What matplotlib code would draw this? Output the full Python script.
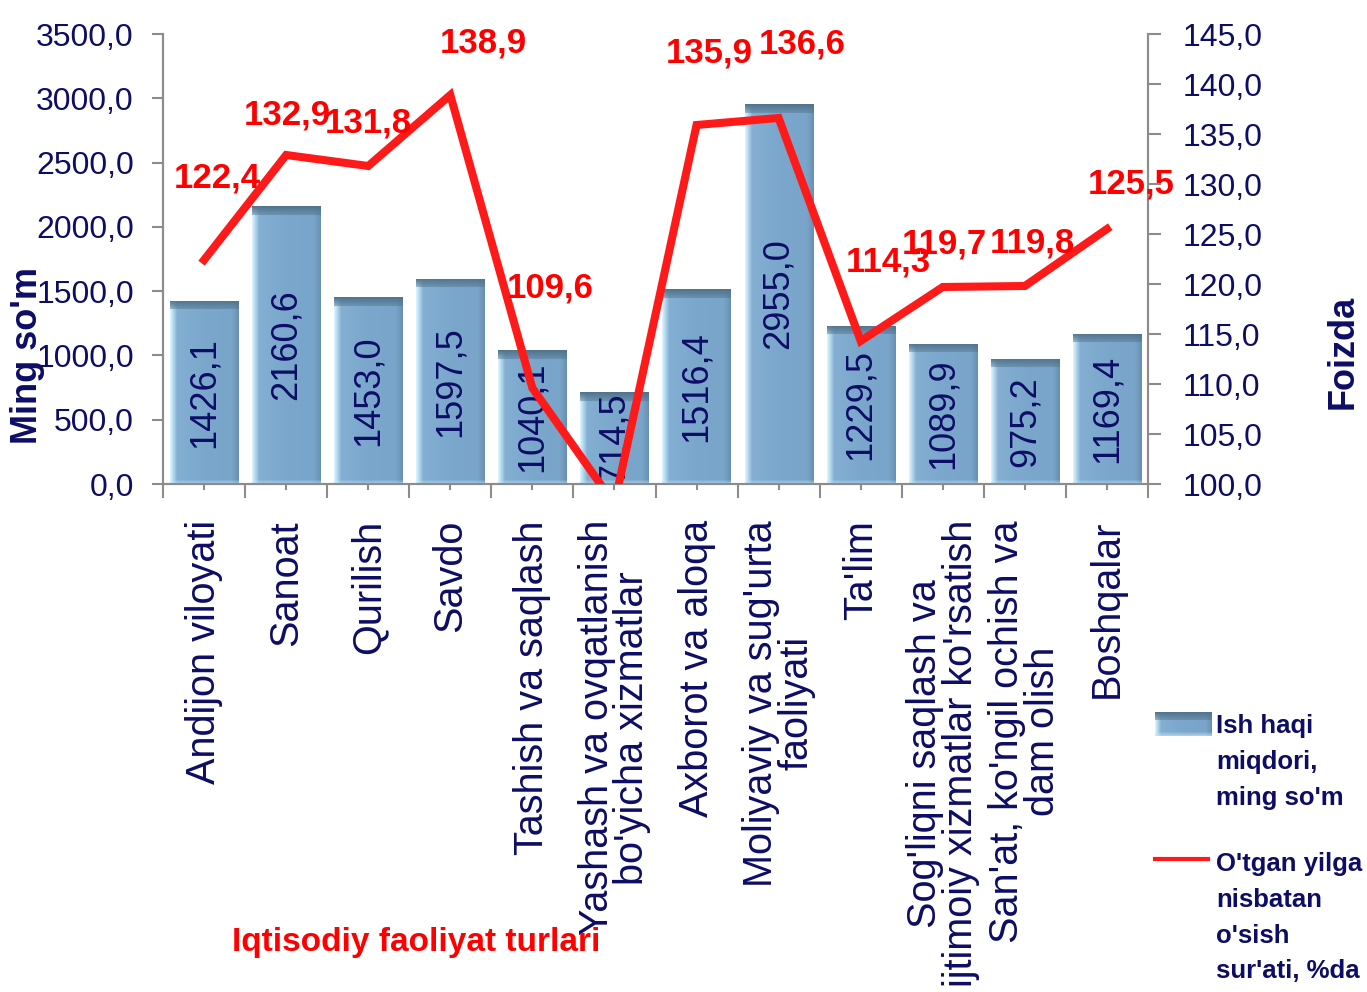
import numpy as np
import matplotlib.pyplot as plt
from matplotlib.colors import to_rgb
from matplotlib.lines import Line2D

# ma'lumotlar
categories = ["Andijon viloyati", "Sanoat", "Qurilish", "Savdo", "Tashish va saqlash",
              "Yashash va ovqatlanish\nbo'yicha xizmatlar", "Axborot va aloqa",
              "Moliyaviy va sug'urta\nfaoliyati", "Ta'lim",
              "Sog'liqni saqlash va\nijtimoiy xizmatlar ko'rsatish",
              "San'at, ko'ngil ochish va\ndam olish", "Boshqalar"]
wage = [1426.1, 2160.6, 1453.0, 1597.5, 1040.1, 714.5, 1516.4, 2955.0, 1229.5, 1089.9, 975.2, 1169.4]
growth = [122.4, 132.9, 131.8, 138.9, 109.6, 98.0, 135.9, 136.6, 114.3, 119.7, 119.8, 125.5]

wage_label = "Ish haqi\nmiqdori,\nming so'm"
growth_label = "O'tgan yilga\nnisbatan\no'sish\nsur'ati, %da"

# yorliqlar siljishi, piksel (dx, dy)
lab_off = [(13, 82), (1, 40), (0, 43), (33, 52), (18, 100), None,
           (13, 72), (24, 74), (28, 79), (2, 43), (8, 43), (24, 45)]

navy = '#0d0d66'
red = '#ff0000'
grey = '#8c8c8c'
plt.rcParams['font.family'] = ['Liberation Sans', 'DejaVu Sans']


def bar_image(nrows, ncols=68, bevel=9):
    t = np.linspace(0, 1, ncols)
    stops = [0, 0.1, 0.5, 0.9, 1]
    cols = [to_rgb(c) for c in ['#d8f3ff', '#84afd3', '#7ba7cc', '#7aa5ca', '#6890b3']]
    prof = np.stack([np.interp(t, stops, [c[i] for c in cols]) for i in range(3)], axis=-1)
    img = np.repeat(prof[None, :, :], nrows, axis=0)
    dark = np.array(to_rgb('#52748d'))
    for r in range(min(bevel, nrows)):
        f = 1 - 0.6 * r / bevel
        img[r] = img[r] * (1 - f) + dark * f
    # pastki yorug' chiziq
    light = np.array(to_rgb('#c6e8fb'))
    for r in range(min(4, nrows)):
        f = 0.6 * (1 - r / 4)
        img[-1 - r] = img[-1 - r] * (1 - f) + light * f
    return img


fig = plt.figure(figsize=(13.67, 9.92), dpi=100)
ax = fig.add_axes([163 / 1367, 1 - 484 / 992, (1148 - 163) / 1367, 450 / 992])
x = np.arange(len(categories))
bars = ax.bar(x, wage, width=0.83, color='#7ba6cb', zorder=2)
for rect in bars:
    h = rect.get_height()
    nrows = max(int(h / 3500 * 450), 2)
    im = ax.imshow(bar_image(nrows), extent=(rect.get_x(), rect.get_x() + rect.get_width(), 0, h),
                   aspect='auto', zorder=2.5, interpolation='bilinear')
    im.set_clip_path(rect)
for xi, v in zip(x, wage):
    ax.text(xi, v / 2, f"{v:.1f}".replace('.', ','), rotation=90, ha='center', va='center',
            fontsize=26, color=navy, zorder=3)

ax.set_xlim(-0.5, len(categories) - 0.5)
ax.set_ylim(0, 3500)
ax.set_yticks(np.arange(0, 3501, 500))
ax.set_yticklabels([f"{v:.1f}".replace('.', ',') for v in np.arange(0, 3501, 500)])
ax.tick_params(axis='y', labelsize=23, labelcolor=navy, color=grey, length=8, width=1.5, pad=13)

ax.set_xticks(np.arange(-0.5, len(categories), 1))
ax.set_xticklabels([])
ax.set_xticks(x, minor=True)
ax.set_xticklabels(categories, minor=True, rotation=90, va='top', ha='center',
                   multialignment='center', linespacing=0.92, fontsize=28.5, color=navy)
ax.tick_params(axis='x', which='major', length=10, width=1.5, color=grey)
ax.tick_params(axis='x', which='minor', length=8, width=1.5, direction='inout', color=grey, pad=22)

ax.spines['top'].set_visible(False)
for s in ['left', 'bottom', 'right']:
    ax.spines[s].set_color(grey)
    ax.spines[s].set_linewidth(1.5)

ax2 = ax.twinx()
ax2.plot(x, growth, color='#ff1a1a', lw=5.8, solid_joinstyle='miter', zorder=4)
ax2.set_ylim(100, 145)
ax2.set_yticks(np.arange(100, 146, 5))
ax2.set_yticklabels([f"{v:.1f}".replace('.', ',') for v in np.arange(100, 146, 5)])
ax2.tick_params(axis='y', labelsize=23, labelcolor=navy, color=grey, length=9, width=1.5, pad=16)
ax2.spines['top'].set_visible(False)
for s in ['left', 'bottom', 'right']:
    ax2.spines[s].set_color(grey)
    ax2.spines[s].set_linewidth(1.5)

for xi, v, off in zip(x, growth, lab_off):
    if off is None:
        continue
    ax2.annotate(f"{v:.1f}".replace('.', ','), (xi, v), xytext=off, textcoords='offset pixels',
                 ha='center', va='center', fontsize=25, fontweight='bold', color=red,
                 annotation_clip=False, zorder=5)

# o'q nomlari
fig.text(28 / 1367, 1 - 355 / 992, "Ming so'm", rotation=90, ha='center', va='center',
         fontsize=26, fontweight='bold', color=navy)
fig.text(1343 / 1367, 1 - 352 / 992, "Foizda", rotation=90, ha='center', va='center',
         fontsize=26, fontweight='bold', color=navy)
fig.text(416 / 1367, 1 - 942 / 992, "Iqtisodiy faoliyat turlari", ha='center', va='center',
         fontsize=24, fontweight='bold', color=red)

# legenda
lax = fig.add_axes([0, 0, 1, 1], facecolor='none')
lax.axis('off')
lax.imshow(bar_image(24, 57, 8), extent=(1155, 1212, 736, 712), aspect='auto', zorder=2)
lax.text(1216, 714, wage_label, ha='left', va='top', fontsize=18.5, fontweight='bold',
         color=navy, linespacing=1.62)
lax.add_line(Line2D([1155, 1208], [859, 859], color='#ff1a1a', lw=3))
lax.text(1216, 852, growth_label, ha='left', va='top', fontsize=18.5, fontweight='bold',
         color=navy, linespacing=1.62)
lax.set_xlim(0, 1367)
lax.set_ylim(992, 0)

plt.savefig('out.png', dpi=100)
